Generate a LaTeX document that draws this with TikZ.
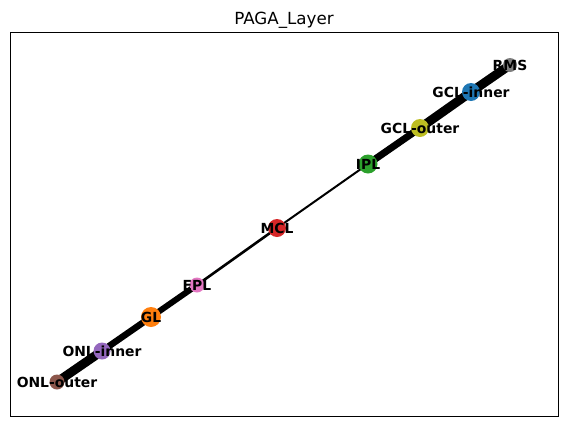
\documentclass[tikz,border=0pt]{standalone}
\usepackage{fontspec}
\setmainfont{DejaVu Sans}
\usepackage{tikz}
\usetikzlibrary{backgrounds}
\definecolor{tabblue}{HTML}{1F77B4}
\definecolor{taborange}{HTML}{FF7F0E}
\definecolor{tabgreen}{HTML}{2CA02C}
\definecolor{tabred}{HTML}{D62728}
\definecolor{tabpurple}{HTML}{9467BD}
\definecolor{tabbrown}{HTML}{8C564B}
\definecolor{tabpink}{HTML}{E377C2}
\definecolor{tabgray}{HTML}{7F7F7F}
\definecolor{tabolive}{HTML}{BCBD22}

\begin{document}
\begin{tikzpicture}[
                x=1pt, y=-1pt,
                dot/.style={circle, draw=none, inner sep=0pt, minimum size=17pt},
                lbl/.style={font=\fontsize{13.9}{14}\selectfont\bfseries, inner sep=0pt},
                edge/.style={draw, black, line cap=butt}
            ]
                \useasboundingbox (0,0) rectangle (568,426);

                % Frame and title
                \node (frame) [draw, line width=1.1pt, minimum width=548pt, minimum height=384pt, inner sep=0pt, anchor=north west] at (10,32) {};
                \node (title) [font=\fontsize{16.7}{17}\selectfont, anchor=base] at (284,24) {PAGA\_Layer};

                % Define Nodes
                \node (rms) [dot, fill=tabgray, minimum size=14pt, label={[lbl]center:RMS}] at (510,65) {};
                \node (gclin) [dot, fill=tabblue, minimum size=18pt, label={[lbl]center:GCL-inner}] at (471,92) {};
                \node (gclout) [dot, fill=tabolive, minimum size=18pt, label={[lbl]center:GCL-outer}] at (420,128) {};
                \node (ipl) [dot, fill=tabgreen, minimum size=19pt, label={[lbl]center:IPL}] at (368,164) {};
                \node (mcl) [dot, fill=tabred, minimum size=18pt, label={[lbl]center:MCL}] at (277,228) {};
                \node (epl) [dot, fill=tabpink, minimum size=15pt, label={[lbl]center:EPL}] at (197,285) {};
                \node (gl) [dot, fill=taborange, minimum size=20pt, label={[lbl]center:GL}] at (151,317) {};
                \node (onlin) [dot, fill=tabpurple, minimum size=17pt, label={[lbl]center:ONL-inner}] at (102,351) {};
                \node (onlout) [dot, fill=tabbrown, minimum size=15pt, label={[lbl]center:ONL-outer}] at (57,382) {};

                % Draw edges
                \begin{scope}[on background layer]
                \draw[edge, line width=9pt] (rms.center) -- (gclin.center);
                \draw[edge, line width=9pt] (gclin.center) -- (gclout.center);
                \draw[edge, line width=7pt] (gclout.center) -- (ipl.center);
                \draw[edge, line width=2pt] (ipl.center) -- (mcl.center);
                \draw[edge, line width=2.6pt] (mcl.center) -- (epl.center);
                \draw[edge, line width=6pt] (epl.center) -- (gl.center);
                \draw[edge, line width=6.5pt] (gl.center) -- (onlin.center);
                \draw[edge, line width=9pt] (onlin.center) -- (onlout.center);
                \end{scope}

            \end{tikzpicture}
\end{document}
